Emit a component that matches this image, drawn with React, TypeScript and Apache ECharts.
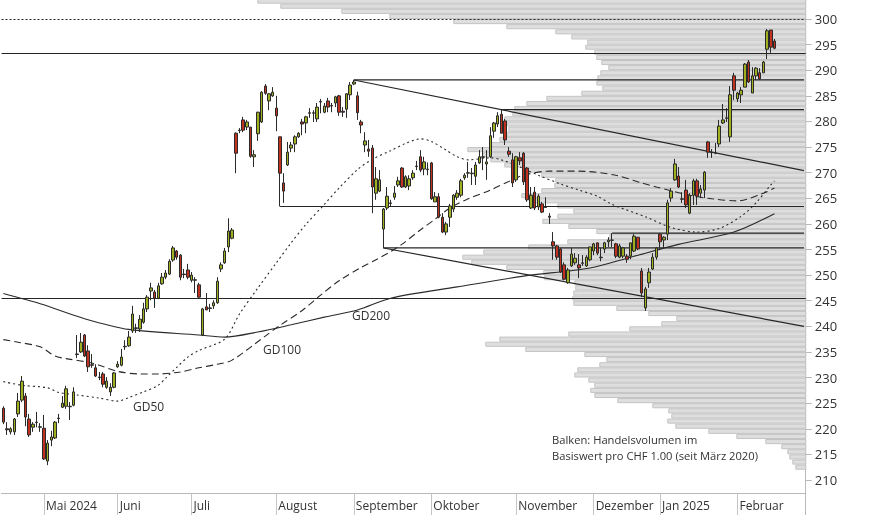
import React, { useEffect, useRef } from "react";
import * as echarts from "echarts";

const FONT = '"Open Sans", "Noto Sans", "DejaVu Sans", sans-serif';

// ---- categories (SIX trading days) ----
const FIRST_DAY = "2024-04-16";
const DAY_COUNT = 218;
const HOLIDAYS = [
  "2024-05-01", "2024-05-09", "2024-05-20", "2024-08-01",
  "2024-12-24", "2024-12-25", "2024-12-26", "2024-12-31",
  "2025-01-01", "2025-01-02",
];
const MONTH_LABELS: Record<string, string> = {
  "2024-05": "Mai 2024", "2024-06": "Juni", "2024-07": "Juli", "2024-08": "August",
  "2024-09": "September", "2024-10": "Oktober", "2024-11": "November",
  "2024-12": "Dezember", "2025-01": "Jan 2025", "2025-02": "Februar",
};

// ---- price ticks ----
const Y_MIN = 210;
const Y_MAX = 305;
const Y_STEP = 5;

// ---- candles: [open, close, low, high] ----
const candles: number[][] = [
  [224.0, 221.3, 220.9, 224.4], [220.0, 219.8, 218.8, 221.3], [219.4, 220.0, 218.9, 220.3], [219.4, 221.9, 218.8, 222.1],
  [222.9, 225.4, 222.3, 227.0], [225.6, 229.3, 225.2, 230.3], [226.4, 222.3, 220.5, 227.0], [221.9, 218.8, 218.4, 222.9],
  [220.3, 220.9, 219.4, 221.3], [221.3, 221.2, 220.3, 223.3], [220.3, 220.4, 219.4, 221.1], [220.1, 214.1, 213.9, 222.7],
  [213.7, 217.2, 212.9, 217.8], [217.8, 218.4, 216.6, 219.6], [218.2, 221.3, 218.0, 221.5], [222.1, 222.0, 221.1, 222.9],
  [224.2, 225.0, 224.05, 226.4], [224.4, 227.8, 223.9, 228.4], [224.4, 224.3, 221.7, 225.2], [224.6, 227.2, 224.4, 228.1],
  [234.6, 234.5, 233.8, 238.3], [235.0, 236.9, 234.8, 238.7], [238.3, 234.2, 234.0, 238.5], [235.2, 232.1, 231.1, 236.3],
  [232.5, 232.4, 231.9, 234.6], [231.9, 230.3, 230.1, 232.6], [230.1, 230.0, 229.5, 231.1], [230.7, 228.7, 228.1, 231.1],
  [228.1, 229.3, 227.8, 230.1], [227.2, 228.1, 226.4, 228.9], [228.1, 230.9, 227.9, 231.1], [232.1, 232.6, 231.9, 233.2],
  [232.4, 234.0, 232.2, 235.6], [236.0, 236.1, 235.4, 237.3], [236.2, 237.9, 236.0, 239.1], [239.1, 242.4, 238.7, 244.0],
  [239.7, 239.6, 238.7, 240.5], [239.5, 241.4, 238.9, 242.2], [240.8, 243.4, 240.5, 244.6], [243.4, 245.7, 242.8, 246.1],
  [246.9, 247.5, 245.1, 248.5], [246.7, 245.5, 243.6, 247.1], [245.5, 247.9, 245.3, 248.5], [248.3, 249.6, 248.1, 250.4],
  [249.6, 250.4, 249.2, 251.0], [250.2, 252.7, 250.0, 253.1], [252.95, 255.3, 252.6, 255.7], [254.7, 253.5, 253.0, 254.9],
  [253.9, 249.6, 249.0, 254.1], [250.2, 250.1, 249.4, 251.2], [251.0, 249.6, 249.2, 252.2], [249.0, 250.0, 248.6, 250.6],
  [249.1, 249.0, 246.5, 249.6], [248.1, 245.7, 245.5, 248.5], [238.3, 243.4, 238.1, 243.6], [243.8, 243.2, 243.2, 246.5],
  [243.6, 243.5, 242.8, 244.4], [244.0, 244.6, 243.4, 245.1], [244.6, 248.8, 244.4, 249.6], [251.2, 252.0, 250.6, 252.5],
  [252.4, 254.7, 252.2, 255.3], [255.5, 258.6, 254.5, 261.1], [257.2, 258.8, 257.0, 259.2], [277.7, 273.8, 269.9, 277.9],
  [278.3, 278.2, 277.7, 278.7], [280.3, 278.3, 277.9, 280.9], [278.9, 279.9, 278.3, 280.3], [278.9, 273.2, 272.9, 278.9],
  [273.1, 273.5, 271.1, 274.4], [277.6, 281.8, 276.2, 281.9], [279.9, 285.7, 279.7, 285.9], [286.9, 285.5, 285.2, 287.3],
  [284.0, 285.4, 282.2, 285.5], [285.0, 285.7, 284.8, 286.7], [282.6, 281.1, 278.1, 285.0], [277.0, 269.9, 263.4, 277.0],
  [268.0, 266.4, 264.1, 269.9], [271.5, 274.0, 271.3, 276.0], [274.8, 275.4, 274.0, 276.0], [275.6, 277.0, 274.0, 277.3],
  [277.0, 277.7, 276.8, 277.9], [279.9, 279.5, 277.3, 280.5], [279.7, 280.9, 277.7, 281.1], [281.7, 281.6, 280.7, 282.6],
  [281.6, 281.7, 279.9, 282.2], [280.5, 282.8, 279.9, 283.6], [283.8, 283.9, 281.6, 284.4], [281.8, 283.0, 281.6, 283.6],
  [284.0, 282.8, 281.8, 284.6], [283.0, 283.1, 281.8, 283.6], [283.6, 284.8, 282.8, 285.0], [285.0, 281.8, 281.1, 285.2],
  [282.0, 281.8, 280.9, 282.8], [282.4, 285.4, 280.7, 285.5], [285.2, 287.1, 284.2, 287.7], [287.3, 287.7, 287.1, 288.1],
  [285.0, 281.7, 280.3, 285.8], [279.9, 279.3, 277.7, 280.3], [275.4, 276.2, 274.0, 277.9], [274.6, 274.2, 273.1, 276.4],
  [274.8, 267.2, 262.1, 275.4], [266.0, 268.8, 264.7, 271.1], [266.4, 268.6, 266.2, 270.5], [259.0, 262.9, 255.3, 263.1],
  [263.1, 265.4, 262.7, 267.2], [264.1, 264.0, 263.5, 264.7], [265.2, 266.0, 264.7, 267.4], [267.6, 268.4, 267.2, 269.2],
  [270.9, 267.2, 267.0, 271.1], [267.2, 269.2, 267.0, 269.5], [267.4, 268.8, 266.6, 269.5], [269.0, 269.9, 268.6, 270.5],
  [271.3, 271.2, 270.5, 272.3], [273.1, 270.5, 270.1, 274.4], [270.7, 272.1, 269.5, 273.1], [270.6, 270.7, 269.5, 272.0],
  [271.9, 264.9, 264.7, 272.1], [264.3, 265.3, 264.3, 266.2], [265.3, 261.3, 261.1, 266.0], [261.3, 258.4, 258.2, 262.1],
  [258.4, 260.0, 257.8, 260.4], [261.3, 263.5, 259.4, 263.9], [262.9, 265.6, 262.3, 265.8], [265.2, 266.0, 264.7, 266.6],
  [265.6, 268.4, 265.2, 268.8], [269.0, 269.5, 268.6, 269.9], [269.9, 270.0, 269.0, 272.1], [269.9, 269.8, 267.6, 270.9],
  [269.3, 271.5, 267.6, 272.1], [271.9, 273.1, 271.7, 274.4], [273.0, 273.1, 270.5, 275.0], [271.7, 272.1, 268.6, 274.4],
  [273.1, 277.2, 272.9, 278.9], [278.1, 279.7, 276.8, 279.9], [279.5, 281.1, 278.9, 281.8], [281.4, 277.7, 277.7, 282.3],
  [280.1, 276.4, 275.4, 280.5], [274.2, 273.6, 273.1, 275.0], [272.5, 268.0, 267.2, 273.8], [268.6, 273.1, 268.2, 273.3],
  [272.9, 272.3, 271.5, 274.0], [273.8, 268.2, 267.6, 274.0], [270.9, 264.7, 264.3, 271.1], [263.1, 265.6, 262.9, 267.2],
  [266.2, 263.1, 262.7, 267.2], [263.3, 265.4, 262.7, 265.8], [263.9, 262.3, 262.1, 264.3], [263.3, 263.2, 263.1, 265.2],
  [261.5, 261.3, 260.0, 262.1], [256.5, 255.7, 253.0, 258.4], [255.7, 253.5, 253.0, 255.9], [255.1, 250.6, 250.4, 255.3],
  [252.0, 249.2, 249.0, 252.5], [248.5, 251.0, 248.3, 251.4], [251.8, 254.1, 251.6, 255.3], [252.4, 253.3, 252.0, 254.3],
  [252.0, 251.4, 249.4, 254.1], [252.4, 252.3, 251.8, 253.9], [251.8, 253.5, 251.6, 253.9], [253.0, 255.5, 252.7, 255.5],
  [254.7, 256.1, 253.9, 256.3], [256.3, 254.3, 253.9, 256.3], [253.5, 253.4, 252.7, 255.3], [255.1, 256.3, 254.3, 256.5],
  [256.5, 256.85, 255.5, 257.4], [256.85, 256.8, 255.5, 258.2], [256.1, 253.7, 253.3, 256.3], [253.5, 255.7, 253.3, 256.1],
  [253.7, 255.3, 253.3, 255.5], [253.7, 253.1, 252.4, 254.1], [253.7, 256.3, 253.1, 256.3], [254.7, 257.6, 254.5, 258.0],
  [257.4, 255.1, 254.9, 257.4], [250.8, 246.5, 245.7, 251.4], [243.6, 247.3, 243.0, 247.7], [248.5, 250.6, 247.5, 251.4],
  [251.2, 253.5, 251.0, 254.3], [253.5, 255.3, 253.0, 255.5], [258.0, 256.5, 254.9, 258.2], [256.85, 257.4, 255.3, 257.6],
  [258.0, 264.1, 256.85, 264.7], [265.05, 266.4, 264.3, 267.0], [268.6, 271.7, 268.4, 272.7], [269.35, 267.2, 267.0, 271.1],
  [264.9, 264.8, 264.1, 266.2], [266.6, 263.7, 263.1, 268.6], [262.1, 265.6, 261.9, 266.0], [265.6, 268.4, 263.7, 268.8],
  [268.4, 265.4, 263.7, 268.8], [266.0, 266.8, 265.05, 267.6], [266.6, 270.1, 265.05, 270.3], [276.0, 274.0, 272.9, 276.2],
  [274.0, 273.9, 272.9, 274.6], [273.8, 273.9, 273.6, 275.8], [275.6, 279.1, 275.0, 280.3], [279.7, 280.3, 279.5, 283.4],
  [280.6, 280.7, 279.9, 282.6], [277.0, 285.2, 276.0, 286.9], [288.9, 286.1, 284.2, 289.5], [284.4, 285.55, 283.8, 285.75],
  [285.2, 286.1, 283.6, 286.7], [286.7, 291.2, 286.7, 291.4], [291.6, 287.7, 287.5, 292.0], [285.55, 288.9, 285.55, 290.6],
  [288.9, 290.4, 288.1, 290.6], [289.5, 288.3, 288.1, 290.4], [289.5, 291.6, 289.5, 291.8], [294.1, 297.7, 292.2, 298.05],
  [297.85, 294.5, 293.4, 297.85], [295.7, 294.3, 294.1, 296.1],
];

// ---- moving averages, read at sample days: [dayIndex, value] ----
const gd50: number[][] = [
  [0, 229.2], [5, 228.5], [12, 228.0], [15, 227.1], [20, 226.6], [26, 226.0], [31, 225.4], [34, 226.1],
  [38, 227.2], [42, 228.5], [44, 229.9], [47, 232.0], [50, 234.0], [53, 235.3], [60, 237.5], [64, 242.4],
  [69, 247.5], [74, 252.4], [78, 256.3], [82, 259.9], [87, 263.8], [91, 267.0], [96, 270.6], [100, 272.6],
  [105, 274.3], [109, 275.7], [113, 276.6], [116, 276.1], [120, 274.4], [123, 273.1], [126, 272.5], [132, 272.9],
  [135, 272.5], [140, 271.1], [145, 269.5], [151, 267.8], [156, 266.6], [161, 265.4], [165, 263.8], [174, 261.4],
  [181, 259.3], [188, 258.4], [194, 259.1], [200, 261.5], [204, 264.1], [208, 267.6], [209, 268.4],
];
const gd100: number[][] = [
  [0, 237.4], [4, 236.9], [10, 236.0], [14, 234.2], [17, 233.7], [23, 233.0], [26, 232.4], [31, 231.2],
  [37, 230.7], [42, 230.7], [48, 231.1], [53, 231.9], [58, 232.6], [62, 233.4], [71, 238.1], [75, 240.2],
  [81, 243.1], [86, 246.1], [91, 248.9], [97, 251.5], [101, 253.0], [105, 254.6], [108, 256.0], [113, 258.8],
  [117, 260.9], [121, 263.1], [126, 264.9], [132, 266.6], [137, 268.3], [141, 269.5], [148, 270.3], [156, 270.3],
  [166, 269.5], [173, 268.0], [177, 267.2], [186, 265.6], [192, 264.9], [199, 264.5], [206, 266.0], [209, 267.0],
];
const gd200: number[][] = [
  [0, 246.4], [10, 244.4], [22, 241.5], [34, 239.4], [53, 238.3], [60, 237.9], [69, 238.9], [78, 240.3],
  [87, 241.8], [96, 243.2], [105, 245.5], [123, 247.7], [141, 249.8], [159, 251.4], [170, 253.5], [183, 256.0],
  [198, 258.4], [209, 262.0],
];

// ---- horizontal levels and trend lines ----
const fullLevels = [293.3, 245.5];
const dottedLevel = 300;
const levelSegments: number[][] = [ // [fromDay, value]
  [95, 288.1], [135, 282.3], [75, 263.4], [165, 258.2], [103, 255.3],
];
const trendLines: number[][][] = [
  [[95, 288.1], [217, 270.4]],
  [[103, 255.3], [217, 240.0]],
];

// ---- volume profile: bins of CHF 1.00, lowest bin starts at 212 ----
const profileStart = 212;
const profileVolume = [
  10, 13, 16, 18, 24, 40, 69, 97, 130, 138, // 212-221
  134, 137, 153, 188, 211, 215, 211, 217, 231, 228, // 222-231
  206, 199, 221, 280, 320, 306, 237, 176, 144, 129, // 232-241
  157, 189, 232, 233, 232, 230, 231, 261, 262, 299, // 242-251
  334, 343, 322, 277, 238, 196, 209, 237, 263, 248, // 252-261
  232, 248, 271, 284, 264, 251, 250, 264, 281, 301, // 262-271
  315, 323, 338, 316, 306, 299, 297, 298, 301, 293, // 272-281
  291, 279, 259, 224, 203, 209, 208, 205, 197, 204, // 282-291
  209, 211, 220, 218, 234, 250, 299, 352, 416, 464, // 292-301
  525, 548, // 302-303
];

const UP = "#a0af1f";
const DOWN = "#c0321f";
const EDGE = "#2a2a2a";
const LINE = "#262626";

function buildDays(): string[] {
  const out: string[] = [];
  const d = new Date(FIRST_DAY + "T00:00:00Z");
  while (out.length < DAY_COUNT) {
    const wd = d.getUTCDay();
    const s = d.toISOString().slice(0, 10);
    if (wd !== 0 && wd !== 6 && HOLIDAYS.indexOf(s) < 0) out.push(s);
    d.setUTCDate(d.getUTCDate() + 1);
  }
  return out;
}

export default function App() {
  const ref = useRef<HTMLDivElement>(null);
  useEffect(() => {
    document.body.style.margin = "0";
    if (!ref.current) return;
    const chart = echarts.init(ref.current, undefined, { renderer: "svg" });
    const days = buildDays();
    const isMonthStart = (i: number) =>
      i > 0 && days[i] !== undefined && days[i].slice(0, 7) !== days[i - 1].slice(0, 7);
    const lastIdx = days.length - 1;

    const profileData = profileVolume.map((v, k) => [profileStart + k, v]);

    const series: any[] = [];
    series.push({
      type: "custom",
      xAxisIndex: 1,
      yAxisIndex: 0,
      silent: true,
      clip: true,
      z: 1,
      encode: { x: 1, y: 0 },
      data: profileData,
      renderItem: (_p: any, api: any) => {
        const low = api.value(0);
        const vol = api.value(1);
        const a = api.coord([vol, low + 1]);
        const b = api.coord([0, low]);
        return {
          type: "rect",
          shape: { x: a[0], y: a[1] + 0.5, width: b[0] - a[0], height: b[1] - a[1] - 1 },
          style: { fill: "#dedede", stroke: "#c4c4c4", lineWidth: 1 },
        };
      },
    });

    const lineBase = { type: "line", symbol: "none", silent: true, z: 3, xAxisIndex: 0, yAxisIndex: 0 };
    levelSegments.forEach(([from, v]) => {
      series.push({ ...lineBase, data: [[from, v], [lastIdx, v]], lineStyle: { color: LINE, width: 1.2 } });
    });
    trendLines.forEach((seg) => {
      series.push({ ...lineBase, data: seg, lineStyle: { color: LINE, width: 1.2 } });
    });
    series.push({ ...lineBase, data: gd50, smooth: 0.3, lineStyle: { color: "#2a2a2a", width: 1.1, type: [2, 3] } });
    series.push({ ...lineBase, data: gd100, smooth: 0.3, lineStyle: { color: "#2a2a2a", width: 1.1, type: [7, 4] } });
    series.push({ ...lineBase, data: gd200, smooth: 0.3, lineStyle: { color: "#2a2a2a", width: 1.1 } });

    series.push({
      type: "candlestick",
      xAxisIndex: 0,
      yAxisIndex: 0,
      data: candles,
      barWidth: 3,
      z: 5,
      silent: true,
      itemStyle: { color: UP, color0: DOWN, borderColor: EDGE, borderColor0: EDGE, borderWidth: 1 },
      markLine: {
        silent: true,
        symbol: ["none", "none"],
        label: { show: false },
        data: [
          { yAxis: dottedLevel, lineStyle: { color: LINE, width: 1, type: [2, 2] } },
          ...fullLevels.map((v) => ({ yAxis: v, lineStyle: { color: LINE, width: 1.2, type: "solid" } })),
        ],
      },
    });

    const txt = (text: string, left: number, top: number, size: number) => ({
      type: "text",
      left,
      top,
      silent: true,
      style: { text, fill: "#333", font: `${size}px ${FONT}` },
    });

    chart.setOption({
      animation: false,
      grid: { left: 1.5, top: -6.6, width: 804.3, height: 486.6, outerBoundsMode: "none", containLabel: false },
      xAxis: [
        {
          type: "category",
          data: days,
          boundaryGap: true,
          position: "bottom",
          offset: 13,
          axisLine: { show: true, lineStyle: { color: "#b9b9b9", width: 1 } },
          axisTick: {
            show: true,
            alignWithLabel: true,
            interval: (i: number) => isMonthStart(i),
            length: 22,
            lineStyle: { color: "#c6c6c6" },
          },
          axisLabel: {
            interval: (i: number) => isMonthStart(i),
            formatter: (v: string) => MONTH_LABELS[v.slice(0, 7)] || "",
            align: "left",
            margin: 6,
            padding: [0, 0, 0, 2],
            color: "#333",
            fontSize: 12,
            fontFamily: FONT,
          },
          splitLine: { show: false },
        },
        { type: "value", inverse: true, min: 0, max: 804.3, show: false },
      ],
      yAxis: [
        {
          type: "value",
          position: "right",
          min: Y_MIN,
          max: Y_MAX,
          interval: Y_STEP,
          axisLine: { show: false },
          axisTick: { show: true, length: 6, lineStyle: { color: "#b9b9b9" } },
          axisLabel: {
            margin: 9,
            color: "#333",
            fontSize: 13,
            fontFamily: FONT,
            formatter: (v: number) => (v > 300 ? "" : String(v)),
          },
          splitLine: { show: false },
        },
      ],
      series,
      graphic: [
        { type: "line", silent: true, shape: { x1: 805.5, y1: 0, x2: 805.5, y2: 515 }, style: { stroke: "#b9b9b9", lineWidth: 1 } },
        txt("GD50", 133, 400, 12),
        txt("GD100", 263, 343, 12),
        txt("GD200", 352, 309, 12),
        txt("Balken: Handelsvolumen im", 552, 434, 11.2),
        txt("Basiswert pro CHF 1.00 (seit März 2020)", 552, 450, 11.2),
      ],
    });
    return () => chart.dispose();
  }, []);
  return <div ref={ref} style={{ position: "fixed", left: 0, top: 0, width: 874, height: 515 }} />;
}
